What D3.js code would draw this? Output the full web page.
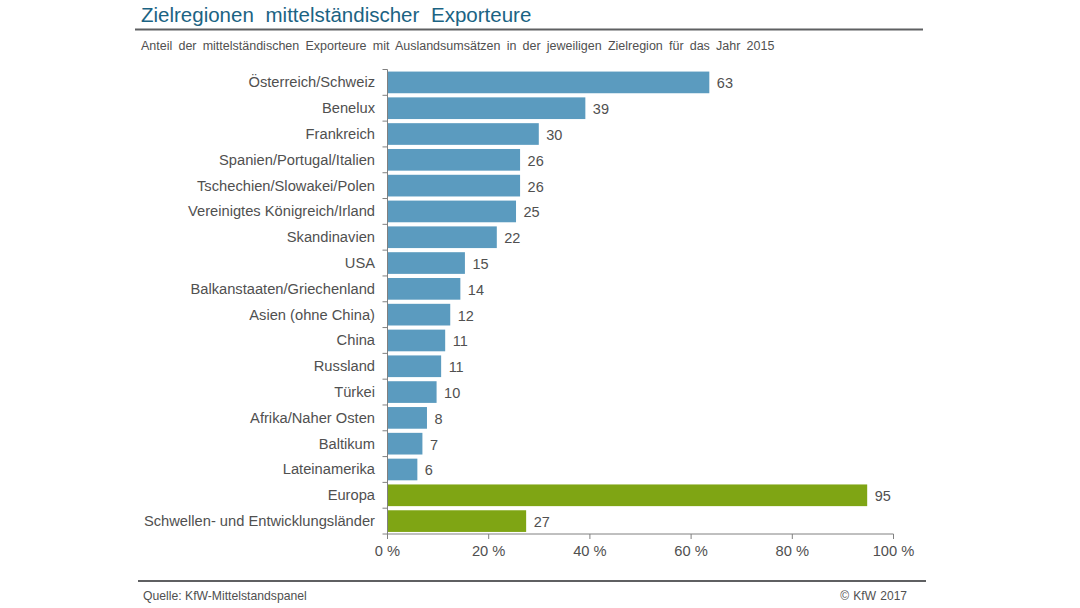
<!DOCTYPE html>
<html>
<head>
<meta charset="utf-8">
<script src="https://cdn.jsdelivr.net/npm/d3@7"></script>
<style>
  html, body { margin: 0; padding: 0; background: #fff; }
  svg text { font-family: "Liberation Sans", Arial, sans-serif; }
</style>
</head>
<body>
<svg id="chart"></svg>
<script>
const width = 1080;
const height = 608;

const categories = [
  "Österreich/Schweiz", "Benelux", "Frankreich", "Spanien/Portugal/Italien",
  "Tschechien/Slowakei/Polen", "Vereinigtes Königreich/Irland", "Skandinavien", "USA",
  "Balkanstaaten/Griechenland", "Asien (ohne China)", "China", "Russland",
  "Türkei", "Afrika/Naher Osten", "Baltikum", "Lateinamerika",
  "Europa", "Schwellen- und Entwicklungsländer"
];
// values, labels as printed next to the bars
const values = [63.6, 39.1, 29.9, 26.2, 26.2, 25.4, 21.6, 15.3, 14.4, 12.4, 11.4, 10.6, 9.7, 7.8, 6.9, 5.9, 94.8, 27.4];
const valueLabels = [63, 39, 30, 26, 26, 25, 22, 15, 14, 12, 11, 11, 10, 8, 7, 6, 95, 27];
const greenCategories = ["Europa", "Schwellen- und Entwicklungsländer"];
const xTicks = [0, 20, 40, 60, 80, 100];

const blue = "#5b9bbf";
const green = "#7fa514";
const textColor = "#505050";
const axisColor = "#808080";
const ruleColor = "#5f6062";

const svg = d3.select("#chart")
  .attr("width", width)
  .attr("height", height)
  .style("display", "block");

const x = d3.scaleLinear().domain([0, 100]).range([387.5, 893.5]);
const y = d3.scaleBand().domain(categories).range([69.5, 534]).paddingInner(0.16).paddingOuter(0.08);
const step = y.step();

// title block
svg.append("text")
  .attr("x", 141).attr("y", 21.5)
  .attr("font-size", 20.5)
  .attr("word-spacing", 6)
  .attr("fill", "#1b6383")
  .text("Zielregionen mittelständischer Exporteure");

svg.append("line")
  .attr("x1", 135).attr("x2", 923)
  .attr("y1", 29.5).attr("y2", 29.5)
  .attr("stroke", ruleColor).attr("stroke-width", 2);

svg.append("text")
  .attr("x", 141).attr("y", 50)
  .attr("font-size", 12.5)
  .attr("word-spacing", 2.7)
  .attr("fill", textColor)
  .text("Anteil der mittelständischen Exporteure mit Auslandsumsätzen in der jeweiligen Zielregion für das Jahr 2015");

// bars
svg.selectAll("rect.bar")
  .data(categories)
  .enter()
  .append("rect")
  .attr("class", "bar")
  .attr("x", x(0))
  .attr("y", d => y(d))
  .attr("width", (d, i) => x(values[i]) - x(0))
  .attr("height", y.bandwidth())
  .attr("fill", d => greenCategories.includes(d) ? green : blue);

// value labels
svg.selectAll("text.value")
  .data(categories)
  .enter()
  .append("text")
  .attr("class", "value")
  .attr("x", (d, i) => x(values[i]) + 7.5)
  .attr("y", d => y(d) + y.bandwidth() / 2 + 6)
  .attr("font-size", 14.5)
  .attr("fill", textColor)
  .text((d, i) => valueLabels[i]);

// category axis with ticks between the bands
const yAxis = svg.append("g");
yAxis.append("line")
  .attr("x1", x(0)).attr("x2", x(0))
  .attr("y1", 69.5).attr("y2", 534)
  .attr("stroke", axisColor);
yAxis.selectAll("line.tick")
  .data(d3.range(categories.length + 1))
  .enter()
  .append("line")
  .attr("class", "tick")
  .attr("x1", x(0) - 5).attr("x2", x(0))
  .attr("y1", i => 69.5 + i * step)
  .attr("y2", i => 69.5 + i * step)
  .attr("stroke", axisColor);
yAxis.selectAll("text")
  .data(categories)
  .enter()
  .append("text")
  .attr("x", 375)
  .attr("y", d => y(d) + y.bandwidth() / 2 + 5)
  .attr("text-anchor", "end")
  .attr("font-size", 14.7)
  .attr("fill", textColor)
  .text(d => d);

// value axis
const xAxis = svg.append("g");
xAxis.append("line")
  .attr("x1", x(0)).attr("x2", x(100))
  .attr("y1", 534).attr("y2", 534)
  .attr("stroke", axisColor);
xAxis.selectAll("line.tick")
  .data(xTicks)
  .enter()
  .append("line")
  .attr("class", "tick")
  .attr("x1", d => x(d)).attr("x2", d => x(d))
  .attr("y1", 534).attr("y2", 539)
  .attr("stroke", axisColor);
xAxis.selectAll("text")
  .data(xTicks)
  .enter()
  .append("text")
  .attr("x", d => x(d))
  .attr("y", 556)
  .attr("text-anchor", "middle")
  .attr("font-size", 14.7)
  .attr("fill", textColor)
  .text(d => d + " %");

// footer
svg.append("line")
  .attr("x1", 138).attr("x2", 926)
  .attr("y1", 581).attr("y2", 581)
  .attr("stroke", ruleColor).attr("stroke-width", 2);

svg.append("text")
  .attr("x", 143).attr("y", 600)
  .attr("font-size", 12.2)
  .attr("fill", textColor)
  .text("Quelle: KfW-Mittelstandspanel");

svg.append("text")
  .attr("x", 907).attr("y", 600)
  .attr("text-anchor", "end")
  .attr("font-size", 12)
  .attr("word-spacing", 1)
  .attr("fill", textColor)
  .text("© KfW 2017");
</script>
</body>
</html>
